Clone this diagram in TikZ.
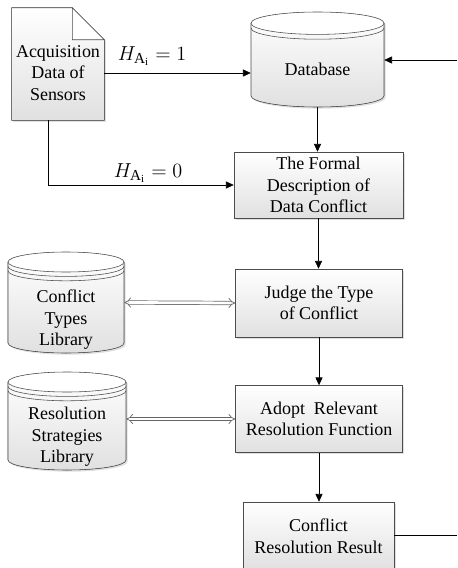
\documentclass[tikz,border=0pt]{standalone}
\usepackage{amsmath}
\usepackage{fontspec}
\setmainfont{Liberation Serif}
\usetikzlibrary{arrows.meta,shadows}

\tikzset{
  boxfill/.style = {top color=white, bottom color=black!12},
  softshadow/.style = {drop shadow={shadow xshift=1.2pt, shadow yshift=-1.2pt, opacity=0.25}},
  stage/.style = {draw=black!70, boxfill, softshadow, align=center, inner sep=0pt},
  spot/.style = {inner sep=0pt, draw=none},
  flow/.style = {draw=black, -{Triangle[length=5.5pt,width=5pt]}},
  twoway/.style = {draw=black!60, line width=0.5pt, double=white, double distance=2pt,
                   {Implies[length=4pt]}-{Implies[length=4pt]}},
  hlabel/.style = {font=\fontsize{15.5}{18}\selectfont},
}

% drum: x, y (centre), half width, half height, y radius, list of ring offsets
\newcommand{\drum}[6]{%
  \fill[boxfill, softshadow] (#1-#3,#2+#4-#5) -- (#1-#3,#2-#4+#5)
    arc[start angle=180, end angle=360, x radius=#3, y radius=#5]
    -- (#1+#3,#2+#4-#5)
    arc[start angle=0, end angle=180, x radius=#3, y radius=#5] -- cycle;
  \draw[black!70] (#1-#3,#2+#4-#5) -- (#1-#3,#2-#4+#5)
    arc[start angle=180, end angle=360, x radius=#3, y radius=#5]
    -- (#1+#3,#2+#4-#5);
  \draw[black!70, fill=white] (#1,#2+#4-#5) ellipse [x radius=#3, y radius=#5];
  \foreach \r in {#6}
    \draw[black!70] (#1-#3,#2+#4-#5-\r)
      arc[start angle=180, end angle=360, x radius=#3, y radius=#5];
}

\begin{document}
\begin{tikzpicture}[font=\fontsize{12.8}{15.3}\selectfont]
  \useasboundingbox (0,0) rectangle (11.425,-14.2);

  % sensor data (document shape)
  \node[spot, minimum width=2.3cm, minimum height=2.8cm] (doc) at (1.45,-1.6) {};
  \fill[boxfill, softshadow] (doc.north west) -- ([xshift=-0.8cm]doc.north east)
    -- ([yshift=-0.8cm]doc.north east) -- (doc.south east) -- (doc.south west) -- cycle;
  \draw[black!70] (doc.north west) -- ([xshift=-0.8cm]doc.north east)
    -- ([yshift=-0.8cm]doc.north east) -- (doc.south east) -- (doc.south west) -- cycle;
  \draw[black!70, fill=white] ([xshift=-0.8cm]doc.north east) -- ([xshift=-0.8cm,yshift=-0.8cm]doc.north east)
    -- ([yshift=-0.8cm]doc.north east) -- cycle;
  \node[align=center, inner sep=0pt] (doctext) at (1.45,-1.825) {Acquisition\\Data of\\Sensors};

  % database and libraries
  \drum{7.9375}{-1.4875}{1.6625}{1.1875}{0.28}{0.12}
  \node[spot, minimum width=3.325cm, minimum height=2.375cm] (db) at (7.9375,-1.4875) {};
  \node (dbtext) at (7.9375,-1.725) {Database};

  \drum{1.65}{-7.5625}{1.45}{1.2625}{0.25}{0.11,0.22}
  \node[spot, minimum width=2.9cm, minimum height=2.525cm] (types) at (1.65,-7.5625) {};
  \node[align=center, inner sep=0pt] (typestext) at (1.65,-8.0) {Conflict\\Types\\Library};

  \drum{1.675}{-10.525}{1.475}{1.225}{0.25}{0.11,0.22}
  \node[spot, minimum width=2.95cm, minimum height=2.45cm] (strat) at (1.675,-10.525) {};
  \node[align=center, inner sep=0pt] (strattext) at (1.675,-10.925) {Resolution\\Strategies\\Library};

  % process steps
  \node[stage, minimum width=4.225cm, minimum height=1.65cm] (formal) at (7.9625,-4.625)
    {The Formal\\Description of\\Data Conflict};
  \node[stage, minimum width=4.175cm, minimum height=1.7cm] (judge) at (7.975,-7.575)
    {Judge the Type\\of Conflict};
  \node[stage, minimum width=4.175cm, minimum height=1.675cm] (adopt) at (7.975,-10.475)
    {Adopt~~Relevant\\Resolution Function};
  \node[stage, minimum width=3.775cm, minimum height=1.7cm] (result) at (7.9625,-13.4)
    {Conflict\\Resolution Result};

  % labels
  \node[hlabel] (hone) at (3.8,-1.4) {$H_{\mathrm{A}_{\mathrm{i}}}=1$};
  \node[hlabel] (hzero) at (3.7,-4.33) {$H_{\mathrm{A}_{\mathrm{i}}}=0$};

  \coordinate (docout) at (1.2,-3.0);
  \coordinate (dbin) at (11.425,-1.5);
  \coordinate (resout) at (11.425,-13.375);

  % connectors
  \draw[flow] (doc.east |- doctext) -- (db.west |- doctext);
  \draw[flow] (docout) |- (formal.west);
  \draw[flow] (dbin) -- (db.east |- dbin);
  \draw[flow] (db.south) -- (db.south |- formal.north);
  \draw[flow] (formal.south) -- (formal.south |- judge.north);
  \draw[flow] (judge.south) -- (judge.south |- adopt.north);
  \draw[flow] (adopt.south) -- (adopt.south |- result.north);
  \draw (result.east |- resout) -- (resout);
  \draw[twoway] (types.east) -- (judge.west);
  \draw[twoway] (strat.east |- adopt.west) -- (adopt.west);
\end{tikzpicture}
\end{document}
